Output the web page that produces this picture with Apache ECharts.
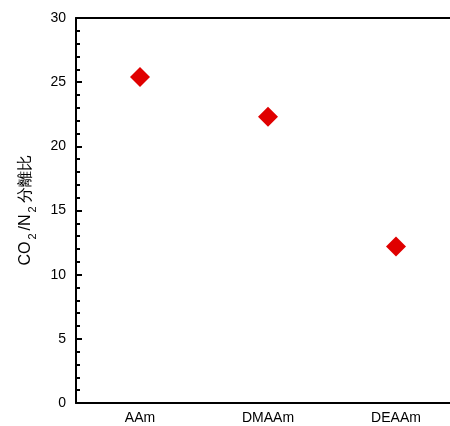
<!DOCTYPE html>
<html><head><meta charset="utf-8">
<script src="https://cdn.jsdelivr.net/npm/echarts@6/dist/echarts.min.js"></script>
<style>html,body{margin:0;padding:0;background:#fff;overflow:hidden}#c{width:460px;height:426px}</style>
</head><body><div id="c"></div>
<script>
const categories = ['AAm', 'DMAAm', 'DEAAm'];
const ratios = [25.4, 22.3, 12.2];
const yTicks = [0, 5, 10, 15, 20, 25, 30];

const chart = echarts.init(document.getElementById('c'));
const font = '"Liberation Sans", Arial, sans-serif';
chart.setOption({
  animation: false,
  grid: { left: 76, top: 18, right: 0, bottom: 23 },
  xAxis: [{
    type: 'category', data: categories,
    axisLine: { lineStyle: { color: '#000', width: 2 } },
    axisTick: { show: false },
    axisLabel: { color: '#000', fontSize: 14, fontFamily: font, margin: 8 }
  }, {
    type: 'category', data: categories, position: 'top',
    axisLine: { show: true, lineStyle: { color: '#000', width: 2 } },
    axisTick: { show: false },
    axisLabel: { show: false }
  }],
  yAxis: {
    type: 'value', min: yTicks[0], max: yTicks[yTicks.length - 1], interval: 5,
    name: '{a|CO}{s|2}{a|/N}{s|2}{a|分離比}',
    nameLocation: 'middle', nameGap: 42, nameRotate: 90,
    nameTextStyle: {
      color: '#000', fontFamily: font,
      rich: {
        a: { fontSize: 16, color: '#000', fontFamily: font, lineHeight: 20, verticalAlign: 'bottom' },
        s: { fontSize: 11, color: '#000', fontFamily: font, lineHeight: 20, verticalAlign: 'bottom', padding: [0, 3, -4, 2] }
      }
    },
    axisLine: { show: true, lineStyle: { color: '#000', width: 2 } },
    axisTick: { show: true, inside: true, length: 6, lineStyle: { color: '#000', width: 2 } },
    minorTick: { show: true, splitNumber: 5, length: 4, lineStyle: { color: '#000', width: 2 } },
    splitLine: { show: false },
    axisLabel: { color: '#000', fontSize: 14, fontFamily: font, margin: 10 }
  },
  series: [{
    type: 'scatter', data: ratios, xAxisIndex: 0,
    symbol: 'diamond', symbolSize: 20,
    itemStyle: { color: '#e00000', opacity: 1 }
  }]
});
</script></body></html>
